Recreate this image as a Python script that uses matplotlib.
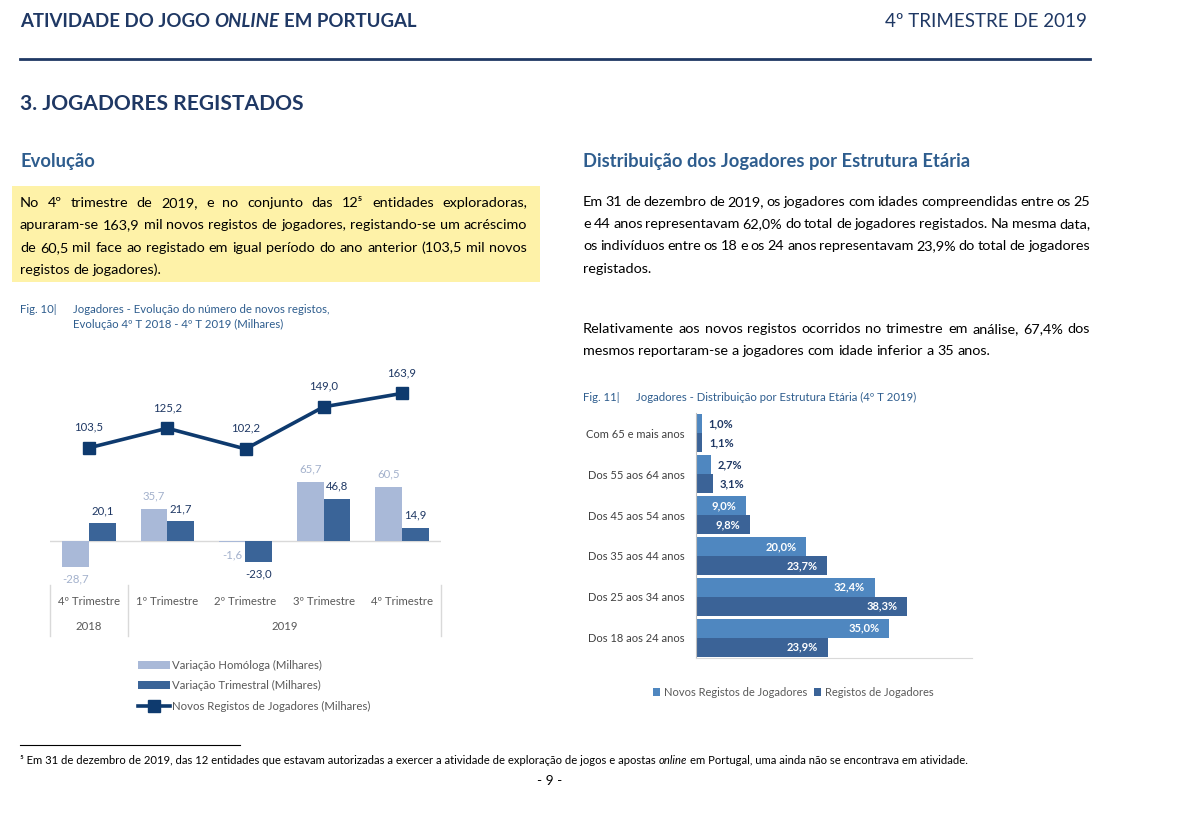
import matplotlib
matplotlib.use('Agg')
import matplotlib.pyplot as plt
import matplotlib.patches as patches
from matplotlib.lines import Line2D
import numpy as np

plt.rcParams['font.family'] = ['Lato', 'DejaVu Sans']

# Fig. 10 - evolution of new registrations (thousands)
quarters = ['4º Trimestre', '1º Trimestre', '2º Trimestre', '3º Trimestre', '4º Trimestre']
years = ['2018', '2019']
year_span = [(0, 0), (1, 4)]
var_homologa = [-28.7, 35.7, -1.6, 65.7, 60.5]
var_trimestral = [20.1, 21.7, -23.0, 46.8, 14.9]
novos_registos = [103.5, 125.2, 102.2, 149.0, 163.9]

# Fig. 11 - distribution by age group (%)
age_groups = ['Com 65 e mais anos', 'Dos 55 aos 64 anos', 'Dos 45 aos 54 anos',
              'Dos 35 aos 44 anos', 'Dos 25 aos 34 anos', 'Dos 18 aos 24 anos']
novos_pct = [1.0, 2.7, 9.0, 20.0, 32.4, 35.0]
registos_pct = [1.1, 3.1, 9.8, 23.7, 38.3, 23.9]

NAVY = '#1F3864'
TITLE_BLUE = '#2E5D8E'
CAP_BLUE = '#2E5D8E'
LIGHT = '#A9B9D8'
DARK = '#3A6498'
LINE = '#0E3A6E'
NOVOS = '#4F87C0'
REGIST = '#3B6397'
GRAY = '#595959'

W, H = 1200, 813
fig = plt.figure(figsize=(12, 8.13), dpi=100)
renderer = fig.canvas.get_renderer()


def fx(x):
    return x / W


def fy(y):
    return 1 - y / H


def ink_width(t):
    return t.get_window_extent(renderer).width


def space_width(**kw):
    a = fig.text(0, 0, 'a a', **kw)
    b = fig.text(0, 0, 'aa', **kw)
    w = ink_width(a) - ink_width(b)
    a.remove()
    b.remove()
    return w


def runs(x, y, parts, **kw):
    # parts placed one after the other, separated by a space
    for i, (s, extra) in enumerate(parts):
        style = dict(kw, **extra)
        t = fig.text(fx(x), fy(y), s, va='baseline', **style)
        x += ink_width(t) + space_width(**style)
    return x


def paragraph(x0, x1, y, lines, step, **kw):
    # justified lines, last one left aligned
    sp = space_width(**kw)
    for i, line in enumerate(lines):
        yy = y + i * step
        words = line.split(' ')
        texts = [fig.text(0, fy(yy), w, va='baseline', **kw) for w in words]
        widths = [ink_width(t) for t in texts]
        if i == len(lines) - 1 or len(words) == 1:
            gap = sp
        else:
            gap = (x1 - x0 - sum(widths)) / (len(words) - 1)
        x = x0
        for t, w in zip(texts, widths):
            t.set_x(fx(x))
            x += w + gap


# ---------------- page text ----------------
runs(20, 27, [('ATIVIDADE DO JOGO', {}), ('ONLINE', {'style': 'italic'}), ('EM PORTUGAL', {})],
     fontsize=13.4, weight='bold', color=NAVY)
fig.text(fx(1087), fy(27), '4º TRIMESTRE DE 2019', ha='right', va='baseline', fontsize=13.5, color=NAVY)
fig.add_artist(Line2D([fx(20), fx(1090)], [fy(59), fy(59)], transform=fig.transFigure, color=NAVY, lw=2))

fig.text(fx(20), fy(110), '3. JOGADORES REGISTADOS', va='baseline', fontsize=15.1, weight='bold', color=NAVY)
fig.text(fx(20), fy(167), 'Evolução', va='baseline', fontsize=13.2, weight='bold', color=TITLE_BLUE)
fig.text(fx(583), fy(167), 'Distribuição dos Jogadores por Estrutura Etária', va='baseline',
         fontsize=13.2, weight='bold', color=TITLE_BLUE)

fig.add_artist(patches.Rectangle((fx(12), fy(282)), fx(528), 96 / H, transform=fig.transFigure,
                                 facecolor='#FEF2A8', edgecolor='none', zorder=0))
paragraph(20, 527, 207, [
    'No 4º trimestre de 2019, e no conjunto das 12\u2075 entidades exploradoras,',
    'apuraram-se 163,9 mil novos registos de jogadores, registando-se um acréscimo',
    'de 60,5 mil face ao registado em igual período do ano anterior (103,5 mil novos',
    'registos de jogadores).'], 22.4, fontsize=10.4, color='black')

paragraph(583, 1090, 206, [
    'Em 31 de dezembro de 2019, os jogadores com idades compreendidas entre os 25',
    'e 44 anos representavam 62,0% do total de jogadores registados. Na mesma data,',
    'os indivíduos entre os 18 e os 24 anos representavam 23,9% do total de jogadores',
    'registados.'], 22.2, fontsize=10.4, color='black')
paragraph(583, 1090, 333, [
    'Relativamente aos novos registos ocorridos no trimestre em análise, 67,4% dos',
    'mesmos reportaram-se a jogadores com idade inferior a 35 anos.'], 22.2, fontsize=10.4, color='black')

fig.text(fx(20), fy(313), 'Fig. 10|', va='baseline', fontsize=8.2, color=CAP_BLUE)
fig.text(fx(73), fy(313), 'Jogadores - Evolução do número de novos registos,', va='baseline', fontsize=8.2, color=CAP_BLUE)
fig.text(fx(73), fy(328), 'Evolução 4º T 2018 - 4º T 2019 (Milhares)', va='baseline', fontsize=8.2, color=CAP_BLUE)
fig.text(fx(583), fy(401), 'Fig. 11|', va='baseline', fontsize=8.2, color=CAP_BLUE)
fig.text(fx(636), fy(401), 'Jogadores - Distribuição por Estrutura Etária (4º T 2019)', va='baseline',
         fontsize=8.2, color=CAP_BLUE)

fig.add_artist(Line2D([fx(20), fx(240)], [fy(745), fy(745)], transform=fig.transFigure, color='black', lw=0.8))
runs(20, 764, [('\u2075 Em 31 de dezembro de 2019, das 12 entidades que estavam autorizadas a exercer a atividade '
                'de exploração de jogos e apostas', {}), ('online', {'style': 'italic'}),
               ('em Portugal, uma ainda não se encontrava em atividade.', {})], fontsize=8.1, color='black')
fig.text(fx(550), fy(785), '- 9 -', ha='center', va='baseline', fontsize=10, color='black')

# ---------------- Fig. 10 ----------------
ax1 = fig.add_axes([fx(50), fy(577), (441 - 50) / W, (577 - 360) / H])
x = np.arange(len(quarters))
bw = 0.345
b1 = ax1.bar(x - 0.17, var_homologa, bw, color=LIGHT, label='Variação Homóloga (Milhares)', zorder=2)
b2 = ax1.bar(x + 0.17, var_trimestral, bw, color=DARK, label='Variação Trimestral (Milhares)', zorder=2)
ln, = ax1.plot(x, novos_registos, color=LINE, lw=2.6, marker='s', ms=8,
               label='Novos Registos de Jogadores (Milhares)', zorder=3)
ax1.set_xlim(-0.5, len(quarters) - 0.5)
ax1.set_ylim(-40, 201)
ax1.axhline(0, color='#D9D9D9', lw=1, zorder=1)
for s in ax1.spines.values():
    s.set_visible(False)
ax1.set_yticks([])
ax1.set_xticks(x, quarters)
ax1.tick_params(axis='x', length=0, pad=14, labelsize=8.2, labelcolor=GRAY)


def fmt(v):
    return f'{v:.1f}'.replace('.', ',')


ax1.bar_label(b1, labels=[fmt(v) for v in var_homologa], padding=5, fontsize=8.2, color='#A3B1CC')
ax1.bar_label(b2, labels=[fmt(v) for v in var_trimestral], padding=5, fontsize=8.2, color=NAVY)
for xi, v in zip(x, novos_registos):
    ax1.annotate(fmt(v), (xi, v), xytext=(0, 11), textcoords='offset points',
                 ha='center', va='bottom', fontsize=8.2, color=NAVY)

trans = ax1.get_xaxis_transform()
for xb in [-0.5, 0.5, len(quarters) - 0.5]:
    ax1.plot([xb, xb], [-0.037, -0.27], transform=trans, color='#D9D9D9', lw=1, clip_on=False)
for yr, (a, b) in zip(years, year_span):
    ax1.text((a + b) / 2, -0.226, yr, transform=trans, ha='center', va='center', fontsize=8.2, color=GRAY)

ax1.legend(handles=[b1, b2, ln], loc='upper left', bbox_to_anchor=(fx(138), fy(660)),
           bbox_transform=fig.transFigure, frameon=False, fontsize=8.2, handlelength=2.8,
           handletextpad=0.15, labelspacing=0.82, labelcolor=GRAY, borderaxespad=0, borderpad=0)

# ---------------- Fig. 11 ----------------
ax2 = fig.add_axes([fx(696), fy(658), (972 - 696) / W, (658 - 413) / H])
yy = np.arange(len(age_groups))
bh = 0.465
r1 = ax2.barh(yy - 0.233, novos_pct, bh, color=NOVOS, label='Novos Registos de Jogadores')
r2 = ax2.barh(yy + 0.233, registos_pct, bh, color=REGIST, label='Registos de Jogadores')
ax2.set_ylim(len(age_groups) - 0.5, -0.5)
ax2.set_xlim(0, 50)
ax2.set_xticks([])
ax2.set_yticks(yy, age_groups)
ax2.tick_params(axis='y', length=0, pad=8, labelsize=8, labelcolor='#404040')
ax2.spines['top'].set_visible(False)
ax2.spines['right'].set_visible(False)
ax2.spines['left'].set_color('#BFBFBF')
ax2.spines['bottom'].set_color('#D9D9D9')

for vals, off in [(novos_pct, -0.233), (registos_pct, 0.233)]:
    for yi, v in zip(yy, vals):
        lab = f'{v:.1f}%'.replace('.', ',')
        if v >= 5:
            ax2.annotate(lab, (v, yi + off), xytext=(-7, 0), textcoords='offset points',
                         ha='right', va='center', fontsize=8, weight='bold', color='white')
        else:
            ax2.annotate(lab, (v, yi + off), xytext=(5, 0), textcoords='offset points',
                         ha='left', va='center', fontsize=8, weight='bold', color=NAVY)

ax2.legend(loc='center', bbox_to_anchor=(fx(793), fy(692)), bbox_transform=fig.transFigure, ncol=2,
           frameon=False, fontsize=8, handlelength=0.7, handleheight=0.7, handletextpad=0.3,
           columnspacing=0.6, labelcolor=GRAY, borderaxespad=0, borderpad=0)

fig.savefig('out.png', dpi=100, facecolor='white')
